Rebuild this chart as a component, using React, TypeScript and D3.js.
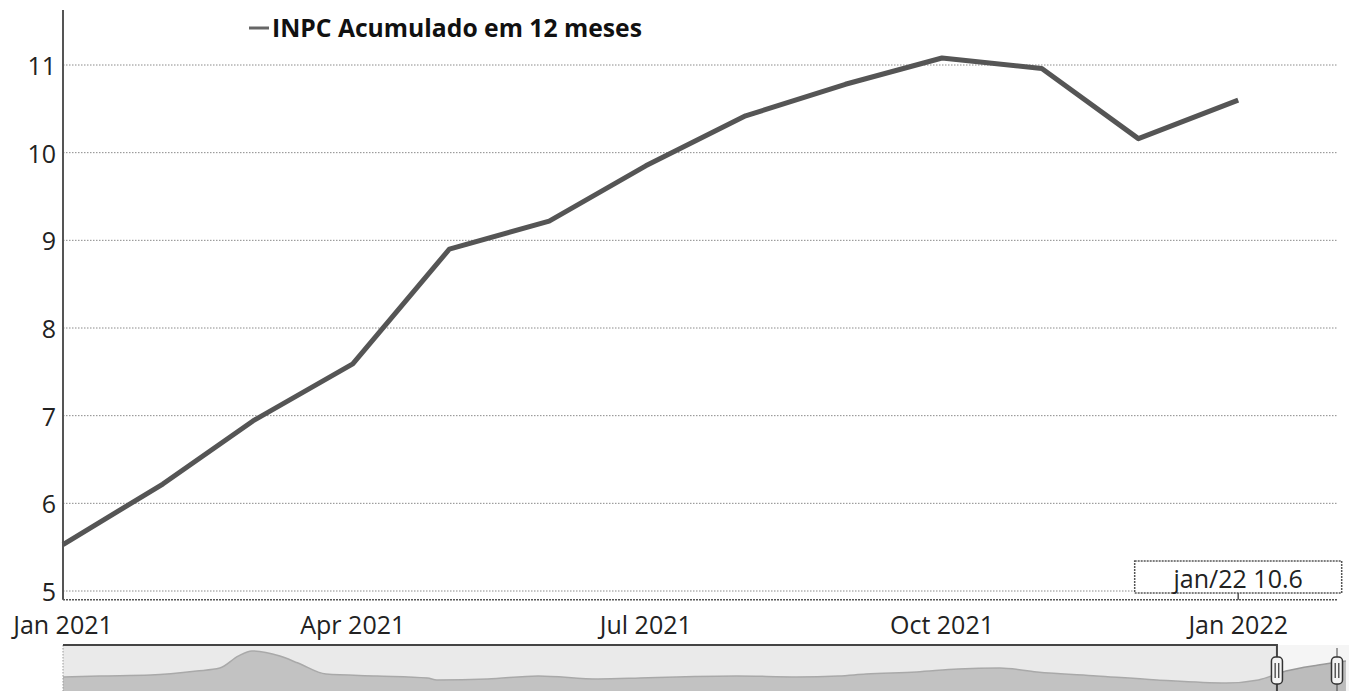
import { useEffect } from "react";
import * as d3 from "d3";

// INPC acumulado em 12 meses (%), mensal
const months = [
  "2021-01", "2021-02", "2021-03", "2021-04", "2021-05", "2021-06", "2021-07",
  "2021-08", "2021-09", "2021-10", "2021-11", "2021-12", "2022-01",
];
const inpc = [5.53, 6.22, 6.94, 7.59, 8.9, 9.22, 9.85, 10.42, 10.78, 11.08, 10.96, 10.16, 10.6];

const yTicks = [5, 6, 7, 8, 9, 10, 11];
const xTickMonths = ["2021-01", "2021-04", "2021-07", "2021-10", "2022-01"];
const xTickLabels = ["Jan 2021", "Apr 2021", "Jul 2021", "Oct 2021", "Jan 2022"];

const navMonths = [
  "1999-02", "1999-10", "2000-09", "2001-07", "2001-12", "2002-04", "2002-07",
  "2003-01", "2003-05", "2003-11", "2004-10", "2005-09", "2005-11", "2006-10",
  "2007-09", "2008-10", "2009-07", "2010-03", "2011-04", "2012-05", "2013-02",
  "2013-08", "2014-07", "2015-04", "2016-01", "2016-09", "2017-10", "2018-11",
  "2020-02", "2020-09", "2021-03", "2021-10", "2022-04",
];
const navValues = [
  6.8, 7.3, 7.8, 9.9, 11.5, 17.8, 20.5, 17.8, 14.1, 8.3, 7.3, 6.2, 5.2, 5.7,
  7.3, 5.7, 6.2, 6.8, 7.3, 6.8, 7.3, 8.3, 9.4, 11.0, 11.5, 9.4, 7.3, 5.2,
  3.6, 5.2, 9.9, 13.1, 15.2,
];

const W = 1349;
const H = 691;
const FONT = "'Open Sans', 'Noto Sans', sans-serif";
const parse = d3.timeParse("%Y-%m");

export default function App() {
  useEffect(() => {
    document.body.style.margin = "0";
  }, []);

  const left = 63;
  const right = 1338;

  const x = d3.scaleTime()
    .domain([new Date(2021, 0, 1), new Date(2022, 1, 1)])
    .range([left, right]);
  const y = d3.scaleLinear().domain([5, 11]).range([591, 65]);
  const axisY = y(4.9);

  const pts = months.map((m, i) => ({ d: parse(m)!, v: inpc[i] }));
  const line = d3.line<{ d: Date; v: number }>()
    .x((p) => x(p.d))
    .y((p) => y(p.v));

  // navigator
  const navTop = 645;
  const navBottom = H;
  const nx = d3.scaleTime()
    .domain([new Date(1999, 1, 1), new Date(2022, 1, 1)])
    .range([left, 1337]);
  const ny = d3.scaleLinear().domain([2, 21]).range([686, 650]);
  const navPts = navMonths.map((m, i) => ({ d: parse(m)!, v: navValues[i] }));
  const navArea = d3.area<{ d: Date; v: number }>()
    .x((p) => nx(p.d))
    .y0(navBottom)
    .y1((p) => ny(p.v))
    .curve(d3.curveMonotoneX);
  const navLine = d3.line<{ d: Date; v: number }>()
    .x((p) => nx(p.d))
    .y((p) => ny(p.v))
    .curve(d3.curveMonotoneX);
  const selL = nx(new Date(2021, 0, 1));
  const selR = nx(new Date(2022, 1, 1));

  const last = pts[pts.length - 1];
  const tipX = x(last.d);
  const tipText = `${d3.timeFormat("%b")(last.d).toLowerCase()}/${d3.timeFormat("%y")(last.d)} ${last.v.toFixed(1)}`;

  const handle = (hx: number) => (
    <g key={hx}>
      <rect x={hx - 5.5} y={657} width={11} height={27} rx={4} fill="#f4f4f4" stroke="#333" strokeWidth={1.5} />
      <line x1={hx - 1.8} x2={hx - 1.8} y1={663} y2={678} stroke="#333" strokeWidth={1.2} />
      <line x1={hx + 1.8} x2={hx + 1.8} y1={663} y2={678} stroke="#333" strokeWidth={1.2} />
    </g>
  );

  return (
    <svg width={W} height={H} style={{ display: "block", fontFamily: FONT }}>
      <rect width={W} height={H} fill="#fff" />

      {/* grid */}
      {yTicks.map((t) => (
        <line key={t} x1={left} x2={right} y1={y(t)} y2={y(t)} stroke="#8a8a8a" strokeWidth={1} strokeDasharray="1.5,1.5" />
      ))}

      {/* axes */}
      <line x1={left} x2={left} y1={10} y2={axisY} stroke="#555" strokeWidth={2} />
      <line x1={left} x2={right} y1={axisY} y2={axisY} stroke="#555" strokeWidth={1.6} strokeDasharray="2,1" />

      {yTicks.map((t) => (
        <text key={t} x={56} y={y(t)} dy="0.4em" textAnchor="end" fontSize={25} fill="#222">
          {t}
        </text>
      ))}
      {xTickMonths.map((m, i) => (
        <text key={m} x={x(parse(m)!)} y={634} textAnchor="middle" fontSize={25} fill="#222">
          {xTickLabels[i]}
        </text>
      ))}

      {/* series */}
      <path d={line(pts)!} fill="none" stroke="#555" strokeWidth={5} strokeLinejoin="round" />

      {/* legend */}
      <line x1={249} x2={269} y1={28} y2={28} stroke="#666" strokeWidth={3} />
      <text x={272} y={37} fontSize={24.7} fontWeight="bold" fill="#111">
        INPC Acumulado em 12 meses
      </text>

      {/* crosshair label */}
      <line x1={tipX} x2={tipX} y1={593} y2={axisY} stroke="#555" strokeWidth={1.5} />
      <rect x={tipX - 103.5} y={561} width={207} height={32} fill="#fff" stroke="#555" strokeWidth={1.5} strokeDasharray="2,1" />
      <text x={tipX} y={588} textAnchor="middle" fontSize={25} fill="#222">
        {tipText}
      </text>

      {/* navigator */}
      <rect x={left} y={navTop} width={W - left} height={navBottom - navTop} fill="#f5f5f5" />
      <path d={navArea(navPts)!} fill="#bcbcbc" />
      <path d={navLine(navPts)!} fill="none" stroke="#999" strokeWidth={1.5} />
      <rect x={left} y={navTop} width={selL - left} height={navBottom - navTop} fill="rgba(210,210,210,0.3)" />
      <line x1={left} x2={left} y1={navTop} y2={navBottom} stroke="#999" strokeWidth={1} strokeDasharray="1.5,1.5" />
      <path d={`M${left},${navTop}H${selL}V${navBottom}`} fill="none" stroke="#444" strokeWidth={2} />
      <line x1={selR} x2={selR} y1={648} y2={navBottom} stroke="#444" strokeWidth={1} />
      {handle(selL)}
      {handle(selR)}
    </svg>
  );
}
